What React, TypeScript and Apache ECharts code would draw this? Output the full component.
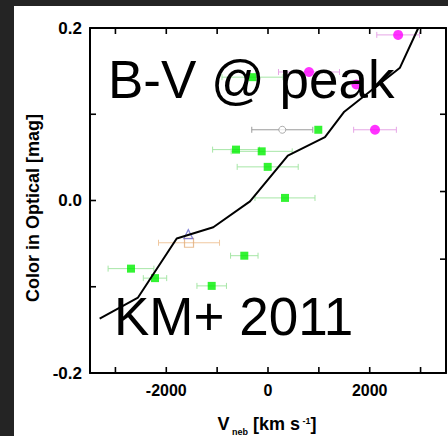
import React, { useEffect, useRef } from "react";
import * as echarts from "echarts";

// Axis ticks / labels
const xMin = -3500;
const xMax = 3500;
const yMin = -0.2;
const yMax = 0.2;
const xTicks = [-3000, -2000, -1000, 0, 1000, 2000, 3000];
const xLabels = [-2000, 0, 2000];
const yTicks = [-0.1, 0, 0.1];
const yLabels = [-0.2, 0, 0.2];
const rightTicks = [0.1, 0.0104, -0.068];

// Model line
const lineX = [-3310, -2556, -1795, -1076, -354, 390, 1120, 1500, 2595, 2955];
const lineY = [-0.137, -0.1125, -0.044, -0.031, -0.001, 0.052, 0.0736, 0.103, 0.154, 0.2];

// Green squares
const greenX = [-305, -629, -124, -6, 989, 334, -466, -2694, -2222, -1107];
const greenY = [0.143, 0.059, 0.057, 0.039, 0.082, 0.003, -0.064, -0.079, -0.09, -0.099];
const greenErr = [600, 460, 600, 600, 0, 590, 270, 450, 230, 290];

// Magenta circles
const magentaX = [2559, 806, 1738, 2104];
const magentaY = [0.192, 0.149, 0.1345, 0.082];
const magentaErr = [420, 600, 0, 420];

// Gray open circle
const grayX = [281];
const grayY = [0.082];
const grayErr = [600];

// Orange open square
const orangeX = [-1553];
const orangeY = [-0.049];
const orangeErr = [600];

// Blue open triangle
const blueX = [-1567];
const blueY = [-0.039];

const FONT = "Liberation Sans, Arial, sans-serif";

const zip = (xs: number[], ys: number[]) => xs.map((x, i) => [x, ys[i]]);
const zip3 = (xs: number[], ys: number[], es: number[]) => xs.map((x, i) => [x, ys[i], es[i]]);

function errSeries(xs: number[], ys: number[], es: number[], color: string) {
  return {
    type: "custom",
    silent: true,
    z: 1,
    data: zip3(xs, ys, es),
    renderItem: (params: any, api: any) => {
      const x = api.value(0);
      const y = api.value(1);
      const e = api.value(2);
      if (!e) return { type: "group", children: [] };
      const p1 = api.coord([x - e, y]);
      const p2 = api.coord([x + e, y]);
      const h = 3;
      const style = { stroke: color, lineWidth: 1 };
      return {
        type: "group",
        children: [
          { type: "line", shape: { x1: p1[0], y1: p1[1], x2: p2[0], y2: p2[1] }, style },
          { type: "line", shape: { x1: p1[0], y1: p1[1] - h, x2: p1[0], y2: p1[1] + h }, style },
          { type: "line", shape: { x1: p2[0], y1: p2[1] - h, x2: p2[0], y2: p2[1] + h }, style },
        ],
      };
    },
  };
}

// Inward tick marks drawn as small filled rects, placed through the axes' scales.
// side: 0 bottom, 1 top, 2 left, 3 right
const tickData = [
  ...xTicks.map((v) => [v, yMin, 0]),
  ...xTicks.map((v) => [v, yMax, 1]),
  ...yTicks.map((v) => [xMin, v, 2]),
  ...rightTicks.map((v) => [xMax, v, 3]),
];

const tickSeries = {
  type: "custom",
  silent: true,
  clip: false,
  z: 8,
  data: tickData,
  renderItem: (params: any, api: any) => {
    const side = Math.round(Number(api.value(2)));
    const p = api.coord([api.value(0), api.value(1)]);
    const L = 6;
    const W = 1.6;
    let shape;
    if (side === 0) shape = { x: p[0] - W / 2, y: p[1] - L, width: W, height: L };
    else if (side === 1) shape = { x: p[0] - W / 2, y: p[1], width: W, height: L };
    else if (side === 2) shape = { x: p[0], y: p[1] - W / 2, width: L, height: W };
    else shape = { x: p[0] - L, y: p[1] - W / 2, width: L, height: W };
    return { type: "rect", shape, style: { fill: "#000" } };
  },
};

const frameLine = { show: true, lineStyle: { color: "#000", width: 2 }, onZero: false };

const xAxisBase = {
  type: "value",
  min: xMin,
  max: xMax,
  z: 0,
  axisLine: frameLine,
  axisTick: { show: false },
  splitLine: { show: false },
};

const yAxisBase = {
  type: "value",
  min: yMin,
  max: yMax,
  interval: 0.1,
  z: 0,
  axisLine: frameLine,
  axisTick: { show: false },
  splitLine: { show: false },
};

export default function App() {
  const ref = useRef<HTMLDivElement>(null);
  useEffect(() => {
    if (!ref.current) return;
    const chart = echarts.init(ref.current, null, { renderer: "svg" });
    chart.setOption({
      animation: false,
      backgroundColor: "#fff",
      grid: { left: 90, right: 2, top: 28, bottom: 63 },
      xAxis: [
        {
          ...xAxisBase,
          position: "bottom",
          axisLabel: {
            customValues: xLabels,
            formatter: (v: number) => String(v),
            color: "#000",
            fontWeight: "bold",
            fontSize: 16,
            fontFamily: FONT,
            margin: 9,
          },
        },
        { ...xAxisBase, position: "top", axisLabel: { show: false } },
      ],
      yAxis: [
        {
          ...yAxisBase,
          position: "left",
          axisLabel: {
            formatter: (v: number) =>
              yLabels.some((l) => Math.abs(l - v) < 1e-6) ? v.toFixed(1) : "",
            color: "#000",
            fontWeight: "bold",
            fontSize: 17,
            fontFamily: FONT,
            margin: 8,
          },
        },
        { ...yAxisBase, position: "right", axisLabel: { show: false } },
      ],
      series: [
        errSeries(greenX, greenY, greenErr, "#a6e6a6"),
        errSeries(magentaX, magentaY, magentaErr, "#e6a6e6"),
        errSeries(grayX, grayY, grayErr, "#9a9a9a"),
        errSeries(orangeX, orangeY, orangeErr, "#f0c8a0"),
        tickSeries,
        {
          type: "scatter",
          data: zip(greenX, greenY),
          symbol: "rect",
          symbolSize: 8,
          itemStyle: { color: "#00f000" },
          z: 3,
        },
        {
          type: "scatter",
          data: zip(magentaX, magentaY),
          symbol: "circle",
          symbolSize: 10,
          itemStyle: { color: "#ff00ff" },
          z: 3,
        },
        {
          type: "scatter",
          data: zip(grayX, grayY),
          symbol: "circle",
          symbolSize: 7,
          itemStyle: { color: "#fff", borderColor: "#999", borderWidth: 1 },
          z: 3,
        },
        {
          type: "scatter",
          data: zip(orangeX, orangeY),
          symbol: "rect",
          symbolSize: 9,
          itemStyle: { color: "rgba(255,255,255,0)", borderColor: "#e2ad78", borderWidth: 1.2 },
          z: 3,
        },
        {
          type: "scatter",
          data: zip(blueX, blueY),
          symbol: "triangle",
          symbolSize: 9,
          itemStyle: { color: "rgba(255,255,255,0)", borderColor: "#6a6ad0", borderWidth: 1.2 },
          z: 3,
        },
        {
          type: "line",
          data: zip(lineX, lineY),
          symbol: "none",
          lineStyle: { color: "#000", width: 2 },
          z: 4,
          clip: true,
        },
      ],
      graphic: [
        { type: "rect", shape: { x: 0, y: 0, width: 14, height: 436 }, style: { fill: "#242424" }, z: 0 },
        { type: "rect", shape: { x: 0, y: 0, width: 448, height: 6 }, style: { fill: "#242424" }, z: 0 },
        {
          type: "text",
          x: 108,
          y: 79,
          z: 100,
          style: {
            text: "B-V @ peak",
            fontSize: 53,
            fontFamily: FONT,
            fill: "#000",
            align: "left",
            verticalAlign: "middle",
          },
        },
        {
          type: "text",
          x: 114,
          y: 316,
          z: 100,
          style: {
            text: "KM+ 2011",
            fontSize: 53,
            fontFamily: FONT,
            fill: "#000",
            align: "left",
            verticalAlign: "middle",
          },
        },
        {
          type: "text",
          x: 33,
          y: 208,
          rotation: Math.PI / 2,
          z: 100,
          style: {
            text: "Color in Optical [mag]",
            fontSize: 18,
            fontWeight: "bold",
            fontFamily: FONT,
            fill: "#000",
            align: "center",
            verticalAlign: "middle",
          },
        },
        {
          type: "text",
          x: 267,
          y: 424,
          z: 100,
          style: {
            text: "{a|V}{sub| neb}{a| [km s}{sup| -1}{a|]}",
            align: "center",
            verticalAlign: "middle",
            rich: {
              a: { fontSize: 18, fontWeight: "bold", fontFamily: FONT, fill: "#000", verticalAlign: "middle" },
              sub: {
                fontSize: 9,
                fontWeight: "bold",
                fontFamily: FONT,
                fill: "#000",
                verticalAlign: "middle",
                padding: [15, 0, 0, 0],
              },
              sup: {
                fontSize: 9,
                fontWeight: "bold",
                fontFamily: FONT,
                fill: "#000",
                verticalAlign: "middle",
                padding: [0, 0, 7, 0],
              },
            },
          },
        },
      ],
    });
    return () => chart.dispose();
  }, []);
  return (
    <div
      ref={ref}
      style={{ position: "absolute", left: 0, top: 0, width: 448, height: 436 }}
    />
  );
}
